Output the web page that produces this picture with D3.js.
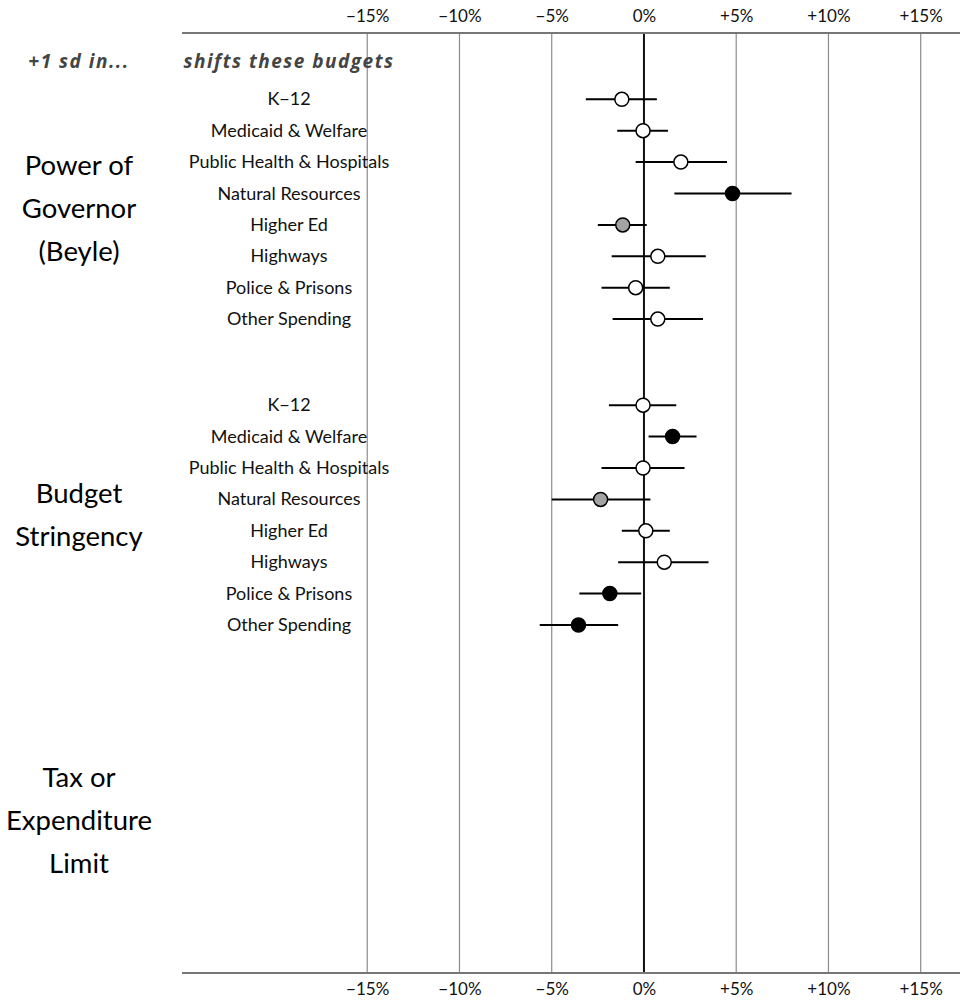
<!DOCTYPE html>
<html>
<head>
<meta charset="utf-8">
<script src="https://cdn.jsdelivr.net/npm/d3@7"></script>
<style>
  html, body { margin: 0; padding: 0; background: #fff; }
  svg { display: block; font-family: Lato, "Open Sans", sans-serif; }
</style>
</head>
<body>
<svg id="chart" width="964" height="1001"></svg>
<script>
// Predictors (left-hand groups) and the budget categories they shift
const predictors = ["Power of|Governor|(Beyle)", "Budget|Stringency", "Tax or|Expenditure|Limit"];
const budgets = ["K\u221212", "Medicaid & Welfare", "Public Health & Hospitals", "Natural Resources",
                 "Higher Ed", "Highways", "Police & Prisons", "Other Spending"];
const tickValues = [-15, -10, -5, 0, 5, 10, 15];

// Effect of +1 sd (percent change in budget share) with interval bounds
const govEst   = [-1.2, -0.05, 2.0, 4.8, -1.15, 0.75, -0.45, 0.75];
const govLo    = [-3.15, -1.45, -0.45, 1.65, -2.5, -1.75, -2.3, -1.7];
const govHi    = [0.7, 1.3, 4.5, 8.0, 0.15, 3.35, 1.4, 3.2];
const govSig   = ["none", "none", "none", "sig", "weak", "none", "none", "none"];

const strEst   = [-0.05, 1.55, -0.05, -2.35, 0.1, 1.1, -1.85, -3.55];
const strLo    = [-1.9, 0.25, -2.3, -5.0, -1.2, -1.4, -3.5, -5.65];
const strHi    = [1.75, 2.85, 2.2, 0.35, 1.4, 3.5, -0.15, -1.4];
const strSig   = ["none", "sig", "none", "weak", "none", "none", "sig", "sig"];

const series = [
  { est: govEst, lo: govLo, hi: govHi, sig: govSig },
  { est: strEst, lo: strLo, hi: strHi, sig: strSig },
  { est: [], lo: [], hi: [], sig: [] }
];

const fills = { none: "#ffffff", weak: "#a3a3a3", sig: "#000000" };

const svg = d3.select("#chart");
const plotTop = 33, plotBottom = 973;

const x = d3.scaleLinear().domain([-25.04, 17.13]).range([182, 960]);
const yGroup = d3.scalePoint().domain(predictors).range([209.2, 821]);
const yRow = d3.scalePoint().domain(budgets).range([-109.9, 109.9]);

const fmt = v => v === 0 ? "0%" : (v > 0 ? "+" : "\u2212") + Math.abs(v) + "%";

// vertical grid lines
svg.append("g").selectAll("line")
  .data(tickValues)
  .join("line")
  .attr("x1", d => x(d)).attr("x2", d => x(d))
  .attr("y1", plotTop).attr("y2", plotBottom)
  .attr("stroke", d => d === 0 ? "#111" : "#8c8c8c")
  .attr("stroke-width", d => d === 0 ? 2 : 1.2);

// top and bottom axes
function drawAxis(gen, yPos, pad) {
  const g = svg.append("g").attr("transform", `translate(0,${yPos})`)
    .call(gen.tickValues(tickValues).tickFormat(fmt).tickSize(0).tickPadding(pad));
  g.select(".domain").remove();
  g.append("line").attr("x1", 182).attr("x2", 960)
    .attr("stroke", "#777").attr("stroke-width", 2);
  g.selectAll(".tick text")
    .attr("font-family", "Lato, sans-serif")
    .attr("font-size", 17).attr("fill", "#111");
}
drawAxis(d3.axisTop(x), plotTop, 11);
drawAxis(d3.axisBottom(x), plotBottom, 10);

// column headers
const header = svg.append("g")
  .attr("font-family", "'Open Sans', sans-serif")
  .attr("font-style", "italic").attr("font-weight", "bold")
  .attr("font-size", 19).attr("letter-spacing", 1.5)
  .attr("fill", "#444").attr("text-anchor", "middle");
header.append("text").attr("x", 79).attr("y", 68).text("+1 sd in...");
header.append("text").attr("x", 289).attr("y", 68).text("shifts these budgets");

// predictor groups
predictors.forEach((p, gi) => {
  const cy = yGroup(p);
  const lines = p.split("|");
  const gLab = svg.append("text")
    .attr("text-anchor", "middle").attr("font-size", 27.5).attr("fill", "#000");
  lines.forEach((t, i) => {
    gLab.append("tspan")
      .attr("x", 79)
      .attr("y", cy + (i - (lines.length - 1) / 2) * 43 + 9)
      .text(t);
  });

  const s = series[gi];
  if (!s.est.length) return;

  const rows = budgets.map((b, i) => ({
    name: b, y: cy + yRow(b), est: s.est[i], lo: s.lo[i], hi: s.hi[i], sig: s.sig[i]
  }));

  const g = svg.append("g");
  g.selectAll("text.lab").data(rows).join("text")
    .attr("class", "lab")
    .attr("x", 289).attr("y", d => d.y + 6)
    .attr("text-anchor", "middle").attr("font-size", 18).attr("fill", "#111")
    .text(d => d.name);

  g.selectAll("line.ci").data(rows).join("line")
    .attr("class", "ci")
    .attr("x1", d => x(d.lo)).attr("x2", d => x(d.hi))
    .attr("y1", d => d.y).attr("y2", d => d.y)
    .attr("stroke", "#000").attr("stroke-width", 2);

  g.selectAll("circle").data(rows).join("circle")
    .attr("cx", d => x(d.est)).attr("cy", d => d.y).attr("r", 7)
    .attr("fill", d => fills[d.sig])
    .attr("stroke", "#000").attr("stroke-width", 1.5);
});
</script>
</body>
</html>
